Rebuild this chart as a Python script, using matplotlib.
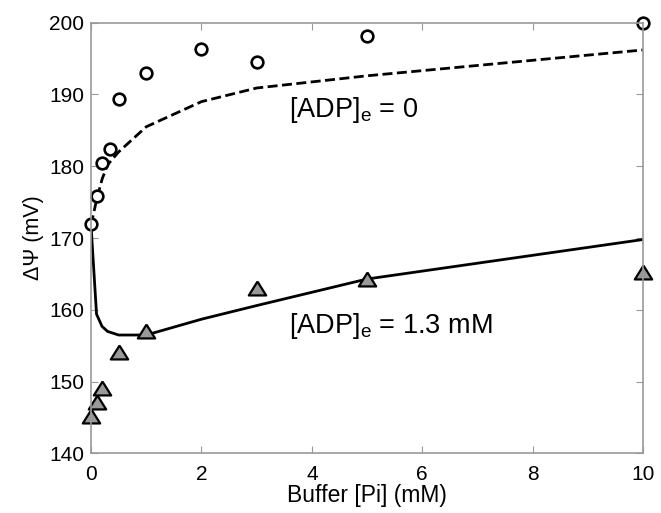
import numpy as np
import matplotlib
matplotlib.use('Agg')
import matplotlib.pyplot as plt

plt.rcParams['font.family'] = ['Liberation Sans', 'DejaVu Sans']
plt.rcParams['mathtext.default'] = 'regular'

# measured data
pi_circ = [0, 0.1, 0.2, 0.35, 0.5, 1, 2, 3, 5, 10]
dpsi_circ = [172.0, 175.8, 180.5, 182.4, 189.4, 193.0, 196.3, 194.5, 198.1, 199.9]
pi_tri = [0, 0.1, 0.2, 0.5, 1, 3, 5, 10]
dpsi_tri = [145.2, 147.2, 149.1, 154.2, 157.0, 163.1, 164.3, 165.3]

# model curves
pi_model = [0, 0.1, 0.2, 0.3, 0.5, 1, 2, 3, 5, 10]
dpsi_adp0 = [171.8, 175.3, 178.2, 180.2, 182.0, 185.5, 189.0, 190.9, 192.6, 196.2]
dpsi_adp13 = [171.8, 159.4, 157.7, 157.0, 156.5, 156.5, 158.7, 160.6, 164.3, 169.8]

tri = [(0, 0.8), (-1, -0.8), (1, -0.8), (0, 0.8)]

fig = plt.figure(figsize=(6.61, 5.13), dpi=100)
ax = fig.add_axes([0.1377, 0.1160, 0.8351, 0.8398])

ax.plot(pi_model, dpsi_adp0, color='black', lw=2, linestyle=(0, (3.6, 1.6)))
ax.plot(pi_model, dpsi_adp13, color='black', lw=2)
ax.plot(pi_circ, dpsi_circ, 'o', ms=8.4, mfc='white', mec='black', mew=1.9, clip_on=False)
ax.plot(pi_tri, dpsi_tri, marker=tri, ls='none', ms=12.5, mfc='#999999', mec='black',
        mew=1.6, clip_on=False)

ax.text(3.58, 186.8, '[ADP]$_e$ = 0', fontsize=19.5, va='baseline')
ax.text(3.58, 156.8, '[ADP]$_e$ = 1.3 mM', fontsize=19.5, va='baseline')

ax.set_xlim(0, 10)
ax.set_ylim(140, 200)
ax.set_xticks([0, 2, 4, 6, 8, 10])
ax.set_yticks([140, 150, 160, 170, 180, 190, 200])
ax.set_xlabel('Buffer [Pi] (mM)', fontsize=16.5, labelpad=0)
ax.set_ylabel('ΔΨ (mV)', fontsize=15.5, labelpad=4)
ax.tick_params(direction='in', top=True, right=True, labelsize=15, color='#999999', length=5)
ax.tick_params(axis='x', pad=8.5)
ax.tick_params(axis='y', pad=5)
for s in ax.spines.values():
    s.set_color('#999999')
    s.set_linewidth(1.2)

fig.savefig('out.png', dpi=100)
